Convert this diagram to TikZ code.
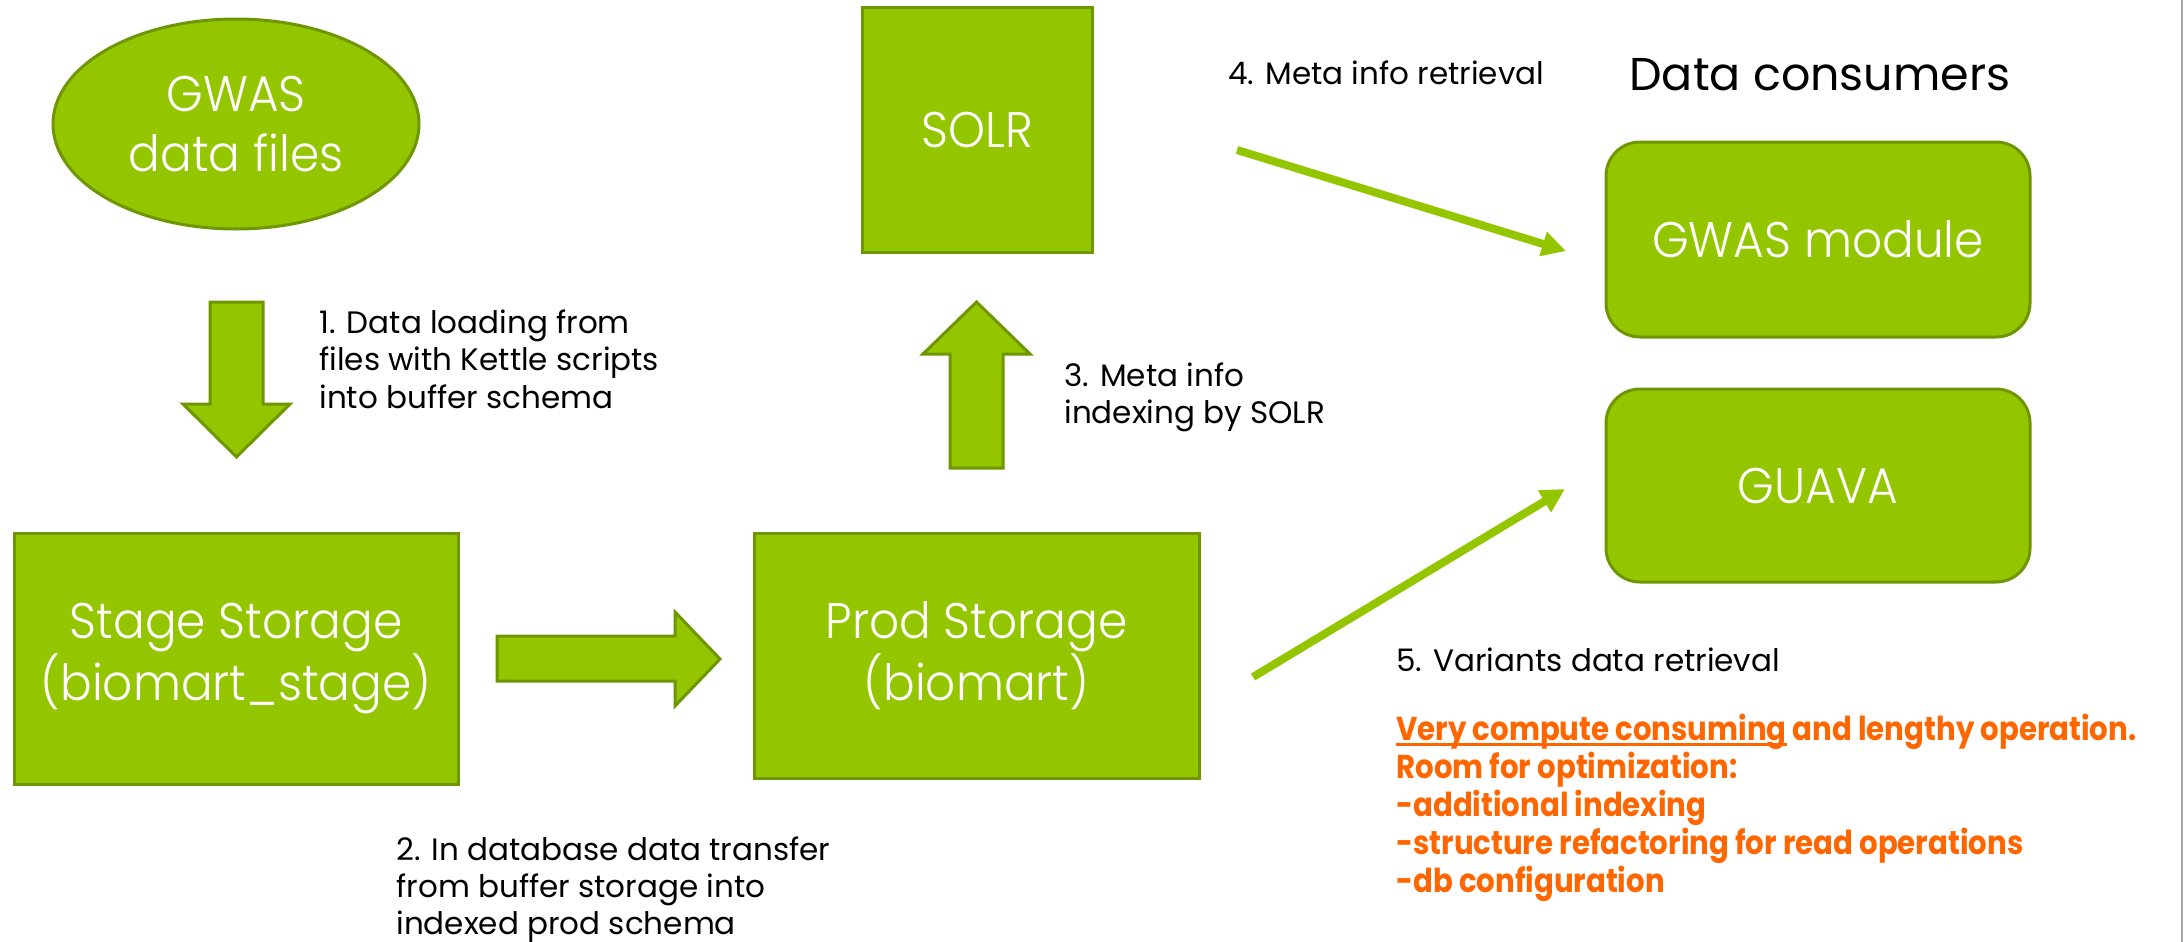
\documentclass[tikz,border=0pt]{standalone}
\usepackage{fontspec}
\setmainfont{Poppins}
\newfontfamily\whitefont[FakeStretch=0.94,UprightFont=* Light]{Poppins}
\newfontfamily\orfont[FakeStretch=0.885]{Poppins}
\usetikzlibrary{shapes.geometric,arrows.meta}
\definecolor{gfill}{RGB}{148,198,0}
\definecolor{gline}{RGB}{110,150,0}
\definecolor{orng}{RGB}{255,102,0}
\newsavebox{\ulbox}
\newcommand{\myul}[1]{\sbox{\ulbox}{#1}\rlap{\rule[-2.6pt]{\wd\ulbox}{1.3pt}}\usebox{\ulbox}}
\begin{document}
\begin{tikzpicture}[x=0.5pt,y=-0.5pt,
 box/.style={draw=gline,fill=gfill,line width=1.5pt,inner sep=0pt,text=white,align=center,font=\whitefont\fontsize{25}{28}\selectfont},
 blockarrow/.style={draw=gline,fill=gfill,line width=1.5pt,line join=miter},
 conn/.style={draw=gfill,line width=4pt,-{Triangle[length=12pt,width=12pt]}},
 lbl/.style={anchor=north west,inner sep=0pt,align=left,font=\fontsize{15.5}{18.75}\selectfont},
 lbll/.style={anchor=west,inner sep=0pt,font=\fontsize{15.5}{18.75}\selectfont},
]
\useasboundingbox (0,0) rectangle (2184,942);
\fill[white] (0,0) rectangle (2184,942);
\draw[gray!70,line width=0.75pt] (2182,0) -- (2182,942);

% nodes
\node[box,ellipse,minimum width=183pt,minimum height=105pt,font=\whitefont\fontsize{25}{30}\selectfont] (gwas) at (236,124) {GWAS\\data files};
\node[box,rectangle,minimum width=222pt,minimum height=125.5pt] (stage) at (236,658.5) {Stage Storage\\(biomart\_stage)};
\node[box,rectangle,minimum width=222.5pt,minimum height=122.5pt] (prod) at (976.5,655.5) {Prod Storage\\(biomart)};
\node[box,rectangle,minimum width=115pt,minimum height=122.5pt] (solr) at (977,129.5) {SOLR};
\node[box,rectangle,rounded corners=17pt,minimum width=212pt,minimum height=97.5pt] (gmod) at (1818,239.5) {GWAS module};
\node[box,rectangle,rounded corners=17pt,minimum width=212pt,minimum height=96.5pt] (guava) at (1818,485.5) {GUAVA};

% block arrows
\draw[blockarrow] (210,302) -- (263,302) -- (263,404) -- (290,404) -- (236.5,457) -- (183,404) -- (210,404) -- cycle;
\draw[blockarrow] (497,636) -- (675,636) -- (675,612) -- (720,659) -- (675,706) -- (675,681) -- (497,681) -- cycle;
\draw[blockarrow] (950,468) -- (950,354) -- (923,354) -- (976.5,302) -- (1030,354) -- (1003,354) -- (1003,468) -- cycle;

% line connectors
\coordinate (a4s) at (1237,150);
\coordinate (a4e) at (1566,251);
\coordinate (a5s) at (1253,677);
\coordinate (a5e) at (1565,489);
\draw[conn] (a4s) -- (a4e);
\draw[conn] (a5s) -- (a5e);

% labels
\node[lbl] (t1) at (319,309) {1. Data loading from\\files with Kettle scripts\\into buffer schema};
\node[lbl,font=\fontsize{15.5}{18.5}\selectfont] (t2) at (396,836) {2. In database data transfer\\from buffer storage into\\indexed prod schema};
\node[lbl] (t3) at (1064,362) {3. Meta info\\indexing by SOLR};
\node[lbll] (t4) at (1228,73) {4. Meta info retrieval};
\node[lbll] (t5) at (1396,660) {5. Variants data retrieval};
\node[anchor=west,inner sep=0pt,font=\fontsize{23}{28}\selectfont] (dc) at (1629,75) {Data consumers};
\node[anchor=north west,inner sep=0pt,align=left,text=orng,font=\orfont\bfseries\fontsize{16.5}{19}\selectfont] (notes) at (1396,714)
 {\myul{Very compute consuming} and lengthy operation.\\Room for optimization:\\-additional indexing\\-structure refactoring for read operations\\-db configuration};
\end{tikzpicture}
\end{document}
